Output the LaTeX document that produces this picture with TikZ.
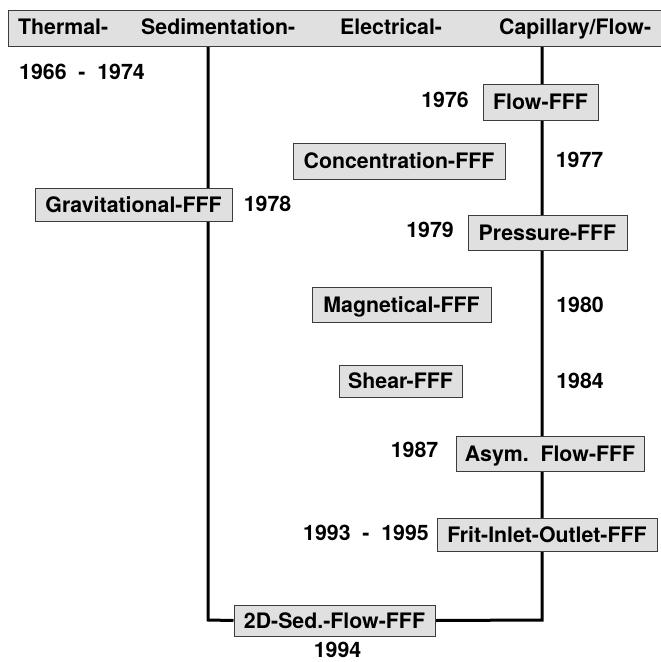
\documentclass[tikz,border=0pt]{standalone}
\usepackage{fontspec}
\setmainfont{TeX Gyre Heros}
\pgfdeclarelayer{bg}
\pgfsetlayers{bg,main}
\definecolor{boxfill}{RGB}{224,224,224}
\definecolor{boxline}{RGB}{60,60,60}
\begin{document}
\begin{tikzpicture}[x=1pt,y=-1pt,
  lbl/.style={font=\fontsize{21.3}{25}\selectfont\bfseries, inner sep=0pt, text height=15pt, text depth=0pt},
  fbox/.style={lbl, draw=boxline, line width=1pt, fill=boxfill},
  tline/.style={line width=3pt, black}]
\useasboundingbox (0,0) rectangle (661,662);
% header bar
\node[fbox, minimum width=655pt, minimum height=36pt] (bar) at (335.5,28) {};
\node[lbl, anchor=west] (thermal) at (18,27) {Thermal-};
\node[lbl, anchor=west] (sed) at (141,27) {Sedimentation-};
\node[lbl, anchor=west] (elec) at (340,27) {Electrical-};
\node[lbl, anchor=west] (cap) at (499,27) {Capillary/Flow-};
% boxes
\node[fbox, minimum width=115pt, minimum height=36pt] (flow) at (540.5,102) {Flow-FFF};
\node[fbox, minimum width=212pt, minimum height=36pt] (conc) at (399,161) {Concentration-FFF};
\node[fbox, minimum width=197pt, minimum height=33pt] (grav) at (133.5,204.5) {Gravitational-FFF};
\node[fbox, minimum width=159pt, minimum height=35pt] (pres) at (547.5,232.5) {Pressure-FFF};
\node[fbox, minimum width=179pt, minimum height=35pt] (magn) at (401.5,304.5) {Magnetical-FFF};
\node[fbox, minimum width=123pt, minimum height=32pt] (shear) at (400.5,381) {Shear-FFF};
\node[fbox, minimum width=188pt, minimum height=35pt] (asym) at (550,453.5) {Asym.\ \ Flow-FFF};
\node[fbox, minimum width=220pt, minimum height=33pt] (frit) at (547,534.5) {Frit-Inlet-Outlet-FFF};
\node[fbox, minimum width=201pt, minimum height=31pt] (twod) at (334.5,620.5) {2D-Sed.-Flow-FFF};
% years
\node[lbl] (y66) at (82,72) {1966\ \ -\ \ 1974};
\node[lbl] (y76) at (445,100) {1976};
\node[lbl] (y77) at (579.5,159.5) {1977};
\node[lbl] (y78) at (267.5,204) {1978};
\node[lbl] (y79) at (430,229.5) {1979};
\node[lbl] (y80) at (580,304.5) {1980};
\node[lbl] (y84) at (580,380.5) {1984};
\node[lbl] (y87) at (414.5,449.5) {1987};
\node[lbl] (y93) at (366,533) {1993\ \ -\ \ 1995};
\node[lbl] (y94) at (337.5,650) {1994};
% connector coordinates
\coordinate (ltop) at (208,46);
\coordinate (lcorner) at (208,620);
\coordinate (rtop) at (542,46);
\coordinate (rcorner) at (542,620);
\begin{pgfonlayer}{bg}
\draw[tline] (ltop) -- (lcorner) -- (twod.west);
\draw[tline] (rtop) -- (rcorner) -- (twod.east);
\end{pgfonlayer}
\end{tikzpicture}
\end{document}
